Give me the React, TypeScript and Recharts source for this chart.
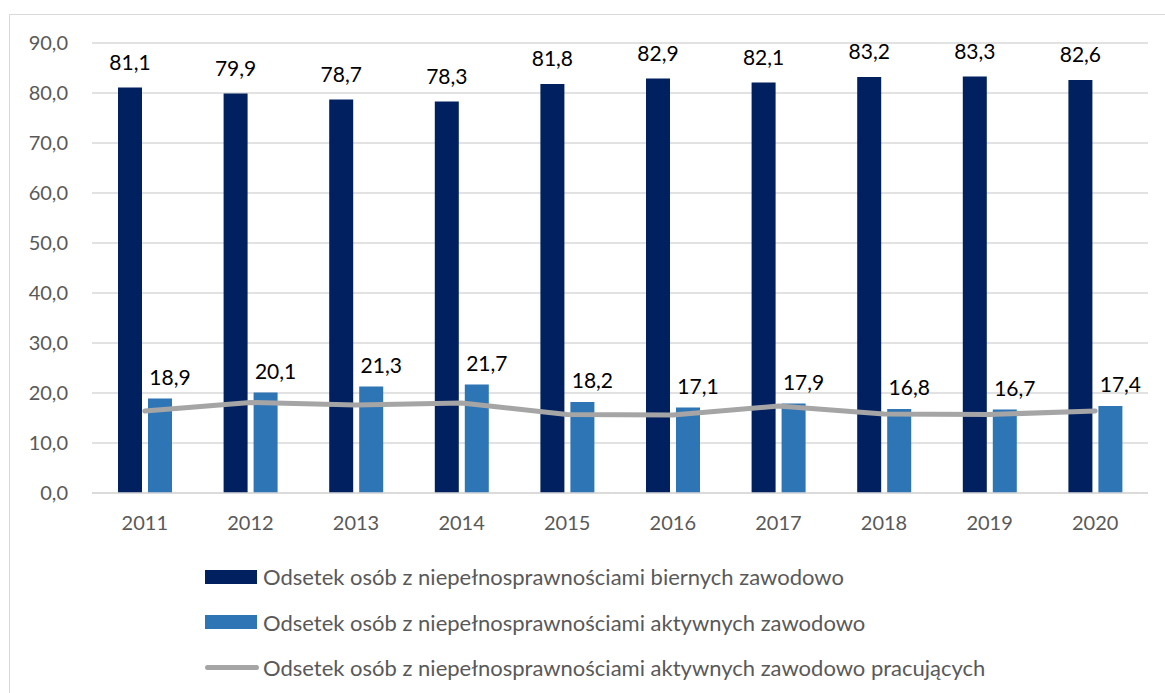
import React from 'react';
import {
  ComposedChart,
  Bar,
  Line,
  XAxis,
  YAxis,
  CartesianGrid,
  Legend,
  LabelList,
} from 'recharts';

const years = ['2011', '2012', '2013', '2014', '2015', '2016', '2017', '2018', '2019', '2020'];
const inactive = [81.1, 79.9, 78.7, 78.3, 81.8, 82.9, 82.1, 83.2, 83.3, 82.6];
const active = [18.9, 20.1, 21.3, 21.7, 18.2, 17.1, 17.9, 16.8, 16.7, 17.4];
const working = [16.4, 18.1, 17.6, 18.0, 15.7, 15.6, 17.4, 15.8, 15.7, 16.4];
const yTicks = [0, 10, 20, 30, 40, 50, 60, 70, 80, 90];

const seriesNames = [
  'Odsetek osób z niepełnosprawnościami biernych zawodowo',
  'Odsetek osób z niepełnosprawnościami aktywnych zawodowo',
  'Odsetek osób z niepełnosprawnościami aktywnych zawodowo pracujących',
];

const data = years.map((y, i) => ({
  year: y,
  inactive: inactive[i],
  active: active[i],
  working: working[i],
}));

const FONT = 'Lato, "Open Sans", sans-serif';
const DARK = '#002060';
const LIGHT = '#2E75B6';
const GRAY = '#A5A5A5';
const TEXT_GRAY = '#595959';

const fmt = (v: number) => v.toFixed(1).replace('.', ',');

const renderLegend = () => (
  <div style={{ fontFamily: FONT, fontSize: 22, color: TEXT_GRAY }}>
    {seriesNames.map((name, i) => (
      <div key={name} style={{ height: 45.5, display: 'flex', alignItems: 'center', whiteSpace: 'nowrap' }}>
        {i < 2 ? (
          <div style={{ width: 52, height: 14, background: i === 0 ? DARK : LIGHT, marginRight: 6 }} />
        ) : (
          <div style={{ width: 54, height: 5, borderRadius: 3, background: GRAY, marginRight: 4 }} />
        )}
        <span>{name}</span>
      </div>
    ))}
  </div>
);

const lightLabel = (props: any) => {
  const { x, y, width, value } = props;
  return (
    <text
      x={x + width / 2 + 10}
      y={y - 14}
      textAnchor="middle"
      fill="#000"
      fontSize={21}
      fontFamily={FONT}
    >
      {fmt(value)}
    </text>
  );
};

export default function App() {
  return (
    <div style={{ position: 'absolute', left: 0, top: 0, width: 1165, height: 693, overflow: 'hidden', background: '#fff' }}>
      <div
        style={{
          position: 'absolute',
          left: 9,
          top: 14,
          width: 1300,
          height: 900,
          borderTop: '1.5px solid #d9d9d9',
          borderLeft: '1.5px solid #d9d9d9',
        }}
      />
      <div style={{ position: 'absolute', left: 0, top: 0 }}>
        <ComposedChart
          width={1165}
          height={693}
          data={data}
          margin={{ top: 43, right: 17, left: 0, bottom: 170 }}
          barGap={6}
          barSize={24}
        >
          <CartesianGrid vertical={false} stroke="#d9d9d9" strokeWidth={1.3} />
          <XAxis
            dataKey="year"
            height={30}
            tickLine={false}
            tickSize={0}
            tickMargin={23}
            axisLine={{ stroke: '#d9d9d9', strokeWidth: 1.5 }}
            tick={{ fill: TEXT_GRAY, fontSize: 20, fontFamily: FONT }}
            interval={0}
          />
          <YAxis
            width={92}
            domain={[0, 90]}
            ticks={yTicks}
            tickFormatter={fmt}
            axisLine={false}
            tickLine={false}
            tickSize={0}
            tickMargin={24}
            tick={{ fill: TEXT_GRAY, fontSize: 20, fontFamily: FONT }}
          />
          <Bar dataKey="inactive" name={seriesNames[0]} fill={DARK} isAnimationActive={false}>
            <LabelList
              dataKey="inactive"
              position="top"
              offset={18}
              formatter={(v: any) => fmt(Number(v))}
              style={{ fill: '#000', fontSize: 21, fontFamily: FONT }}
            />
          </Bar>
          <Bar dataKey="active" name={seriesNames[1]} fill={LIGHT} isAnimationActive={false}>
            <LabelList dataKey="active" content={lightLabel} />
          </Bar>
          <Line
            dataKey="working"
            name={seriesNames[2]}
            type="linear"
            stroke={GRAY}
            strokeWidth={5}
            strokeLinecap="round"
            strokeLinejoin="round"
            dot={false}
            activeDot={false}
            isAnimationActive={false}
          />
          <Legend
            layout="horizontal"
            verticalAlign="middle"
            align="center"
            wrapperStyle={{ top: 554, left: 205, width: 'auto', height: 'auto' }}
            content={renderLegend}
          />
        </ComposedChart>
      </div>
    </div>
  );
}
